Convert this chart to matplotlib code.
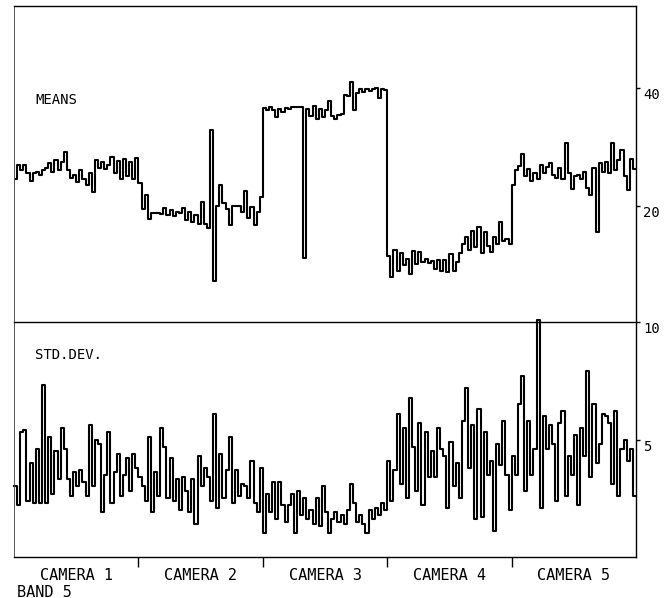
import numpy as np
import matplotlib
matplotlib.use('Agg')
import matplotlib.pyplot as plt

# band 5 statistics per scan segment, 40 segments per camera
cameras = ['CAMERA 1', 'CAMERA 2', 'CAMERA 3', 'CAMERA 4', 'CAMERA 5']
n_seg = 40

means = [
    # camera 1
    24.5, 27.0, 26.0, 27.0, 25.5, 24.2, 25.5, 25.8, 25.3, 26.0,
    26.5, 27.2, 25.8, 27.8, 26.0, 27.4, 29.1, 26.0, 24.8, 25.3,
    24.0, 26.0, 24.5, 23.6, 25.5, 22.3, 27.8, 26.5, 27.5, 26.3,
    27.0, 28.3, 25.5, 27.6, 24.5, 28.0, 25.0, 27.5, 24.5, 28.2,
    # camera 2
    23.8, 19.5, 21.8, 17.8, 18.8, 18.8, 18.8, 18.6, 19.7, 18.4,
    19.3, 18.3, 18.9, 18.8, 19.6, 17.6, 19.0, 17.2, 18.5, 17.0,
    20.7, 17.0, 16.3, 32.9, 7.2, 20.0, 23.5, 20.5, 19.5, 16.8,
    19.9, 19.9, 19.9, 19.0, 22.5, 18.0, 19.8, 16.8, 19.0, 21.5,
    # camera 3
    36.6, 36.3, 36.8, 36.2, 35.0, 36.5, 36.0, 36.6, 36.4, 36.8,
    36.8, 36.8, 36.8, 11.1, 36.5, 35.3, 36.9, 34.8, 36.4, 35.0,
    36.3, 37.8, 35.2, 34.8, 35.4, 35.6, 38.8, 38.6, 41.0, 36.2,
    39.2, 39.8, 39.3, 39.9, 39.5, 39.8, 40.0, 38.3, 39.9, 39.6,
    # camera 4
    11.5, 8.0, 12.5, 9.0, 12.0, 10.0, 11.0, 8.5, 12.3, 10.2,
    12.2, 10.5, 11.0, 10.3, 10.6, 9.3, 10.8, 9.0, 10.8, 8.7,
    11.8, 9.0, 10.5, 12.0, 13.5, 14.8, 12.5, 15.8, 13.0, 16.5,
    12.0, 15.5, 13.2, 12.2, 14.8, 13.5, 17.3, 14.0, 14.3, 13.6,
    # camera 5
    23.5, 26.0, 26.8, 28.8, 25.0, 26.2, 24.2, 25.5, 24.5, 27.0,
    25.5, 26.6, 27.3, 25.2, 24.7, 26.5, 24.5, 30.6, 25.5, 22.8,
    25.0, 25.3, 24.5, 25.8, 23.0, 21.8, 26.5, 15.6, 27.2, 25.8,
    27.5, 25.5, 30.6, 26.0, 27.8, 29.5, 25.0, 22.7, 28.0, 26.2,
]

std_dev = [
    # camera 1
    3.0, 2.2, 5.3, 5.4, 2.4, 4.0, 2.3, 4.6, 2.3, 7.3,
    2.3, 5.1, 2.7, 4.5, 3.3, 5.5, 4.6, 3.3, 2.6, 3.6,
    3.0, 3.7, 3.2, 2.6, 5.6, 3.0, 5.0, 4.8, 1.9, 3.5,
    5.3, 2.3, 3.6, 4.4, 2.6, 3.5, 4.2, 2.8, 4.4, 3.8,
    # camera 2
    3.4, 3.0, 2.4, 5.1, 1.9, 3.6, 2.6, 5.5, 4.7, 2.5,
    4.2, 2.4, 3.3, 2.0, 3.4, 2.8, 1.9, 3.3, 1.4, 4.3,
    3.0, 3.8, 3.4, 2.4, 6.1, 2.1, 4.4, 2.5, 3.7, 5.1,
    2.3, 3.7, 2.6, 3.1, 3.0, 2.5, 4.1, 2.3, 1.9, 3.8,
    # camera 3
    1.0, 2.7, 1.9, 3.2, 1.6, 3.2, 2.2, 1.5, 2.2, 2.7,
    1.0, 2.8, 1.8, 2.5, 1.6, 2.0, 1.4, 2.5, 1.3, 3.0,
    1.9, 1.0, 1.6, 1.9, 1.5, 1.8, 1.4, 2.0, 3.1, 2.3,
    1.5, 1.8, 1.4, 1.0, 2.0, 1.6, 2.1, 1.8, 2.3, 2.0,
    # camera 4
    4.1, 2.4, 3.7, 6.1, 3.1, 5.5, 2.5, 6.75, 4.7, 2.8,
    5.7, 2.2, 5.3, 3.4, 4.5, 3.4, 5.5, 4.6, 4.3, 2.1,
    4.9, 3.0, 4.0, 2.5, 5.8, 7.2, 3.8, 5.6, 1.6, 6.3,
    1.7, 5.3, 3.5, 4.1, 1.1, 4.8, 3.9, 5.8, 3.5, 2.0,
    # camera 5
    4.3, 3.5, 6.5, 7.7, 2.8, 5.8, 3.5, 4.6, 10.1, 2.1,
    6.0, 4.6, 5.6, 4.8, 2.4, 5.7, 6.2, 2.6, 4.3, 3.5,
    5.2, 2.2, 5.5, 4.3, 7.9, 3.4, 6.5, 4.0, 4.8, 6.1,
    6.0, 5.7, 3.1, 6.2, 2.6, 4.6, 5.0, 4.1, 4.6, 2.6,
]

mean_ticks = [20, 40]
std_ticks = [5, 10]

plt.rcParams['font.family'] = ['DejaVu Sans Mono']

n = len(means)
x = np.arange(n + 1)
m = np.append(means, means[-1])
s = np.append(std_dev, std_dev[-1])

fig = plt.figure(figsize=(6.71, 5.98), dpi=100)
ax2 = fig.add_axes([0.0209, 0.0686, 0.9270, 0.3929])
ax1 = fig.add_axes([0.0209, 0.4615, 0.9270, 0.5285])
ax1.patch.set_visible(False)
ax2.patch.set_visible(False)

ax1.plot(x, m, drawstyle='steps-post', color='black', lw=1.5)
ax2.plot(x, s, drawstyle='steps-post', color='black', lw=1.5, clip_on=False)

ax1.set_xlim(0, n)
ax2.set_xlim(0, n)
ax1.set_ylim(0.3, 53.9)
ax2.set_ylim(0, 10)

for ax in (ax1, ax2):
    ax.yaxis.tick_right()
    ax.tick_params(axis='y', direction='out', length=3, width=1, pad=2, labelsize=10)
    ax.spines['left'].set_linewidth(0.7)
    ax.spines['left'].set_color('#555555')
    for side in ('top', 'right', 'bottom'):
        ax.spines[side].set_linewidth(1.0)
        ax.spines[side].set_color('black')

ax1.set_yticks(mean_ticks)
ax1.set_yticklabels([str(t) for t in mean_ticks], va='top')
ax2.set_yticks(std_ticks)
ax2.set_yticklabels([str(t) for t in std_ticks], va='top')
ax2.spines['top'].set_visible(False)

ax1.set_xticks([])
bounds = [n_seg * k for k in range(1, len(cameras))]
centers = [n_seg * k + n_seg / 2 for k in range(len(cameras))]
ax2.set_xticks(bounds)
ax2.set_xticklabels([''] * len(bounds))
ax2.tick_params(axis='x', which='major', direction='out', length=7, width=1)
ax2.set_xticks(centers, minor=True)
ax2.set_xticklabels(cameras, minor=True, fontsize=11)
ax2.tick_params(axis='x', which='minor', length=0, pad=8)

fig.text(0.052, 0.833, 'MEANS', fontsize=10, va='center')
fig.text(0.052, 0.406, 'STD.DEV.', fontsize=10, va='center')
fig.text(0.025, 0.010, 'BAND 5', fontsize=11, va='center')

fig.savefig('out.png', dpi=100)
